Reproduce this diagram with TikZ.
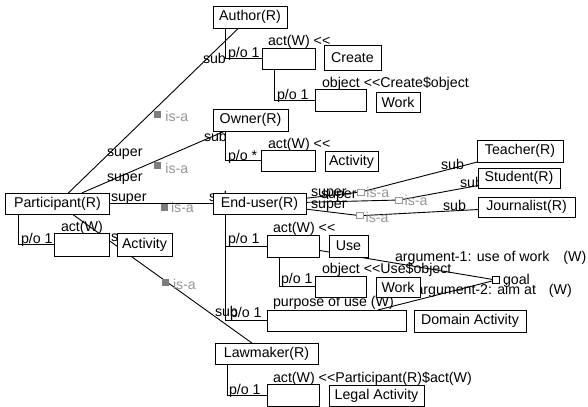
\documentclass[tikz,border=0pt]{standalone}
\usepackage{fontspec}
\setmainfont{Liberation Sans}
\pgfdeclarelayer{bg}
\pgfdeclarelayer{lines}
\pgfsetlayers{bg,lines,main}
\definecolor{isagray}{RGB}{150,150,150}
\definecolor{markgray}{RGB}{125,125,125}
\newcommand{\dlt}{<\kern0pt<}
\begin{document}
\begin{tikzpicture}[x=1bp,y=-1bp,
  font=\fontsize{14.2bp}{16bp}\selectfont,
  box/.style={draw=black, fill=white, line width=1bp, inner sep=0pt, outer sep=0pt},
  lbl/.style={anchor=base west, inner sep=0pt, outer sep=0pt},
  isatext/.style={lbl, text=isagray},
  conn/.style={draw=black, line width=0.9bp},
  isaf/.style={fill=markgray, minimum size=7bp, inner sep=0pt, anchor=north west},
  isah/.style={draw=isagray, fill=white, minimum width=7bp, minimum height=6bp, inner sep=0pt, line width=0.8bp},
  goalbox/.style={draw=black, fill=white, minimum size=7bp, inner sep=0pt, line width=0.8bp}
]
\useasboundingbox (0,0) rectangle (588,406);
\begin{pgfonlayer}{bg}
\fill[white] (0,0) rectangle (588,406);
\end{pgfonlayer}

% ---------- boxes ----------
\node[box, minimum width=74bp, minimum height=22bp] (author) at (250,17) {Author(R)};
\node[box, minimum width=53bp, minimum height=21bp] (aact) at (288.5,58.5) {};
\node[box, minimum width=57bp, minimum height=25bp] (create) at (352.5,57.5) {Create};
\node[box, minimum width=51bp, minimum height=22bp] (aobj) at (340.5,100) {};
\node[box, minimum width=44bp, minimum height=20bp] (awork) at (398,102) {Work};

\node[box, minimum width=75bp, minimum height=22bp] (owner) at (250.5,120) {Owner(R)};
\node[box, minimum width=54bp, minimum height=21bp] (oact) at (288,160.5) {};
\node[box, minimum width=53bp, minimum height=20bp] (oactivity) at (351.5,161.5) {Activity};

\node[box, minimum width=103bp, minimum height=21bp] (participant) at (57.5,203.5) {Participant(R)};
\node[box, minimum width=55bp, minimum height=23bp] (pact) at (81.5,244.5) {};
\node[box, minimum width=55bp, minimum height=23bp] (pactivity) at (144.5,244.5) {Activity};

\node[box, minimum width=93bp, minimum height=21bp] (enduser) at (259.5,203.5) {End-user(R)};
\node[box, minimum width=52bp, minimum height=22bp] (eact) at (293,246) {};
\node[box, minimum width=39bp, minimum height=22bp] (use) at (348.5,246) {Use};
\node[box, minimum width=51bp, minimum height=21bp] (eobj) at (340.5,286.5) {};
\node[box, minimum width=44bp, minimum height=20bp] (ework) at (398,287) {Work};
\node[box, minimum width=139bp, minimum height=21bp] (purpose) at (336.5,320.5) {};
\node[box, minimum width=112bp, minimum height=22bp] (domain) at (470,321) {Domain Activity};

\node[box, minimum width=103bp, minimum height=21bp] (lawmaker) at (266.5,353.5) {Lawmaker(R)};
\node[box, minimum width=52bp, minimum height=22bp] (lact) at (293,395) {};
\node[box, minimum width=95bp, minimum height=21bp] (legal) at (376.5,395.5) {Legal Activity};

\node[box, minimum width=86bp, minimum height=22bp] (teacher) at (520,151) {Teacher(R)};
\node[box, minimum width=82bp, minimum height=20bp] (student) at (519,178) {Student(R)};
\node[box, minimum width=97bp, minimum height=20bp] (journalist) at (526.5,207) {Journalist(R)};

\node[goalbox] (goal) at (496,280) {};

\coordinate (mA) at (361,192);
\coordinate (mB) at (399.3,200);
\coordinate (mC) at (360.3,215.7);

% ---------- connectors and labels (under boxes) ----------
\begin{pgfonlayer}{lines}
\draw[conn] (participant) -- (author) coordinate[pos=.5] (c1);
\draw[conn] (participant) -- (owner) coordinate[pos=.5] (c2);
\draw[conn] (participant) -- (enduser) coordinate[pos=.5] (c3);
\draw[conn] (participant) -- (lawmaker) coordinate[pos=.5] (c4);

\draw[conn] (enduser) -- (mA) -- (teacher);
\draw[conn] (enduser) -- (mB) -- (student);
\draw[conn] (enduser) -- (mC) -- (journalist);

\draw[conn] (eact) -- (goal);
\draw[conn] (purpose) -- (goal);

\draw[conn] ([xshift=12bp]author.south west) |- (aact.west);
\draw[conn] ([xshift=12bp]aact.south west) |- (aobj.west);
\draw[conn] ([xshift=12bp]owner.south west) |- (oact.west);
\draw[conn] ([xshift=12bp]participant.south west) |- (pact.west);
\draw[conn] ([xshift=12bp]enduser.south west) |- (eact.west);
\draw[conn] ([xshift=12bp]enduser.south west) |- (purpose.west);
\draw[conn] ([xshift=12bp]eact.south west) |- (eobj.west);
\draw[conn] ([xshift=12bp]lawmaker.south west) |- (lact.west);

% role labels
\node[lbl] (l1) at (107,156) {super};
\node[lbl] (l2) at (203,63) {sub};
\node[lbl] (l3) at (107,181) {super};
\node[lbl] (l4) at (204,141.5) {sub};
\node[lbl] (l5) at (111,201) {super};
\node[lbl] (l6) at (209,201) {sub};
\node[lbl] (l7) at (111,241) {super};
\node[lbl] (l8) at (215,316.5) {sub};
\node[lbl] (l9) at (311,196.5) {super};
\node[lbl] (l10) at (321,198) {super};
\node[lbl] (l11) at (311,208) {super};
\node[lbl] (l12) at (441,169.5) {sub};
\node[lbl] (l13) at (460,187.5) {sub};
\node[lbl] (l14) at (443,210) {sub};

% part-of labels
\node[lbl] (p1) at (228,57) {p/o 1};
\node[lbl] (p2) at (268,45.5) {act(W) \dlt};
\node[lbl] (p3) at (277,99) {p/o 1};
\node[lbl] (p4) at (322,87) {object \dlt Create\$object};
\node[lbl] (p5) at (228,160) {p/o *};
\node[lbl] (p6) at (268,148) {act(W) \dlt};
\node[lbl] (p7) at (21,243) {p/o 1};
\node[lbl] (p8) at (61,231) {act(W)};
\node[lbl] (p9) at (228,243) {p/o 1};
\node[lbl] (p10) at (273,232) {act(W) \dlt};
\node[lbl] (p11) at (281,283) {p/o 1};
\node[lbl] (p12) at (322,273) {object \dlt Use\$object};
\node[lbl] (p13) at (230,317) {p/o 1};
\node[lbl] (p14) at (273,306) {purpose of use (W)};
\node[lbl] (p15) at (229,394) {p/o 1};
\node[lbl] (p16) at (273,382) {act(W) \dlt Participant(R)\$act(W)};

\node[lbl] (g1) at (395,261) {argument-1: use of work\hspace{14bp}(W)};
\node[lbl] (g2) at (415.5,294) {argument-2: aim at\hspace{13bp}(W)};
\node[lbl] (g3) at (503,284) {goal};
\end{pgfonlayer}

% ---------- is-a markers ----------
\node[isaf] (m1) at (c1) {};
\node[isaf] (m2) at (c2) {};
\node[isaf] (m3) at (c3) {};
\node[isaf] (m4) at (c4) {};
\node[isatext] (t1) at ([xshift=12bp,yshift=-11bp]m1.north west) {is-a};
\node[isatext] (t2) at ([xshift=12bp,yshift=-11bp]m2.north west) {is-a};
\node[isatext] (t3) at ([xshift=10bp,yshift=-9bp]m3.north west) {is-a};
\node[isatext] (t4) at ([xshift=11bp,yshift=-11bp]m4.north west) {is-a};

\node[isah] (hA) at (mA) {};
\node[isah] (hB) at (mB) {};
\node[isah] (hC) at (mC) {};
\node[isatext] (tA) at ([xshift=1.5bp,yshift=-2bp]hA.south east) {is-a};
\node[isatext] (tB) at ([xshift=1.5bp,yshift=-2bp]hB.south east) {is-a};
\node[isatext] (tC) at ([xshift=1.5bp,yshift=-3bp]hC.south east) {is-a};
\end{tikzpicture}
\end{document}
